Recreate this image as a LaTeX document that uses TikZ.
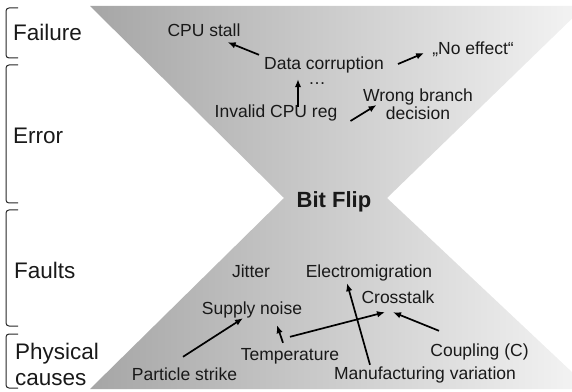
\documentclass[tikz,border=0pt]{standalone}
\usepackage{fontspec}
\setmainfont{Liberation Sans}
\usetikzlibrary{calc, arrows.meta}

\tikzset{
  lvl/.style={anchor=base west, inner sep=0pt, font=\fontsize{22.5}{26}\selectfont, text=black!90},
  item/.style={anchor=base, inner sep=0pt, text height=12.5pt, text depth=3.5pt, font=\fontsize{17.5}{18}\selectfont, text=black!90},
  link/.style={-{Latex[length=8pt,width=6.5pt]}, line width=1.7pt},
  bracket/.style={line width=1pt, rounded corners=3pt, black!85}
}

\begin{document}
\begin{tikzpicture}[x=1pt, y=1pt]
		\useasboundingbox (0,0) rectangle (572,391);
		\clip (0,0) rectangle (572,391);
		\shade[left color=black!35, middle color=black!14, right color=black!4] (90,385) -- (585,385) -- (387,193) -- (590,2) -- (90,2) -- (284,193) -- cycle;
		\foreach \top/\bot in {383/333, 326/188, 181/65, 57/3}
			\draw[bracket] (18,\top) -- (6,\top) -- (6,\bot) -- (18,\bot);
%		levels
		\node[lvl] (failure) at (13,350){Failure};
		\node[lvl] (error) at (13,247){Error};
		\node[lvl] (faults) at (14,113){Faults};
		\node[lvl, anchor=west, align=left] (physical) at (15,27){Physical\\causes};
		\node[anchor=base, inner sep=0pt, font=\fontsize{22}{24}\selectfont\bfseries, text=black!90] (bitflip) at (334,183){Bit Flip};
%		upper part
		\node[item] (stall) at (204,354){CPU stall};
		\node[item] (corrupt) at (324,321){Data corruption};
		\node[item] (noeffect) at (473,336){„No effect“};
		\node[anchor=base, inner sep=0pt, font=\fontsize{17.5}{18}\selectfont, text=black!90] (dots) at (317,306){…};
		\node[item] (invreg) at (276,273){Invalid CPU reg};
		\node[inner sep=0pt, align=center, font=\fontsize{17.5}{18}\selectfont, text=black!90] (branch) at (418,287){Wrong branch\\decision};
		\draw[link] ([xshift=-5pt,yshift=2.5pt]corrupt.north west) -- ([xshift=-13pt,yshift=-1.5pt]stall.south east);
		\draw[link] ([xshift=14pt,yshift=1.5pt]corrupt.east) -- ([xshift=-8pt,yshift=-2.5pt]noeffect.west);
		\draw[link] ([xshift=22pt,yshift=-1.5pt]invreg.north) -- ([xshift=-26pt,yshift=-5.5pt]corrupt.south);
		\draw[link] ([xshift=13pt,yshift=-7.5pt]invreg.east) -- ([xshift=13.5pt,yshift=-1pt]branch.west);
%		lower part
		\node[item] (jitter) at (251,114){Jitter};
		\node[item] (electro) at (369,114){Electromigration};
		\node[item] (supply) at (252,77){Supply noise};
		\node[item] (crosstalk) at (398,88){Crosstalk};
		\node[item] (temp) at (290,31){Temperature};
		\node[item] (particle) at (184.5,11){Particle strike};
		\node[item] (coupling) at (479.5,35){Coupling (C)};
		\node[item] (manuf) at (425,12){Manufacturing variation};
		\draw[link] ([xshift=-1.5pt,yshift=10.5pt]particle.north) -- ([xshift=-9pt,yshift=-0.5pt]supply.south);
		\draw[link] ([xshift=-7pt,yshift=4.5pt]temp.north) -- ([xshift=25pt,yshift=-7.5pt]supply.south);
		\draw[link] ([yshift=10.5pt]temp.north) -- ([xshift=-13pt,yshift=-5.5pt]crosstalk.south);
		\draw[link] ([xshift=-55pt,yshift=1.5pt]manuf.north) -- ([xshift=-22pt,yshift=-2.5pt]electro.south);
		\draw[link] ([xshift=-40.5pt,yshift=12.5pt]coupling.north) -- ([xshift=-5pt,yshift=-5.5pt]crosstalk.south);
	\end{tikzpicture}
\end{document}
